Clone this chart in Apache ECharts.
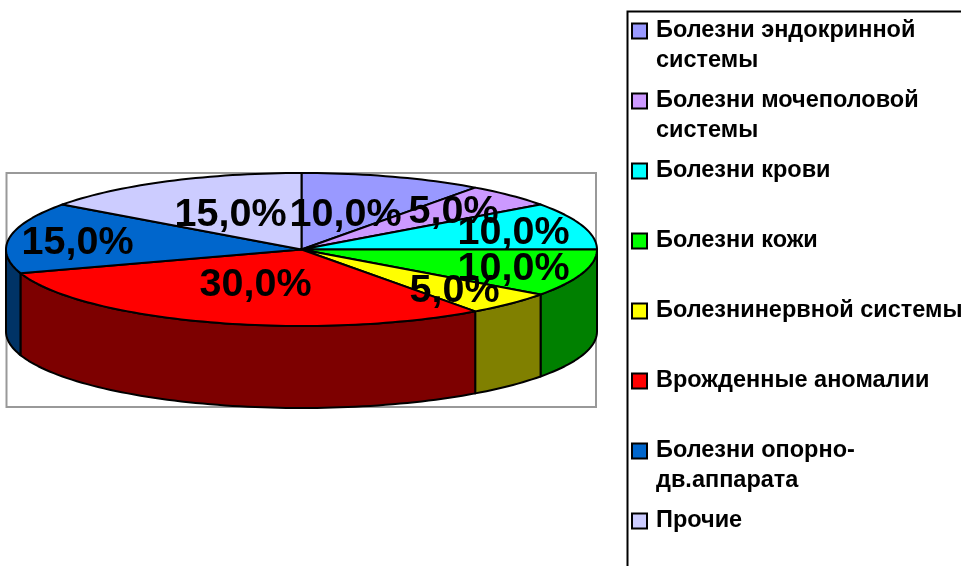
<!DOCTYPE html>
<html>
<head>
<meta charset="utf-8">
<style>html,body{margin:0;padding:0;background:#fff}#c{width:961px;height:566px}</style>
<script src="https://cdn.jsdelivr.net/npm/echarts@6/dist/echarts.min.js"></script>
</head>
<body>
<div id="c"></div>
<script>
const categories = [
  "Болезни эндокринной\nсистемы",
  "Болезни мочеполовой\nсистемы",
  "Болезни крови",
  "Болезни кожи",
  "Болезнинервной системы",
  "Врожденные аномалии",
  "Болезни опорно-\nдв.аппарата",
  "Прочие"
];
const values = [10, 5, 10, 10, 5, 30, 15, 15];
const colors = ["#9999FF", "#CC99FF", "#00FFFF", "#00FF00", "#FFFF00", "#FF0000", "#0066CC", "#CCCCFF"];
const wallColors = ["#4D4D80", "#664D80", "#008080", "#008000", "#808000", "#7D0000", "#003366", "#666680"];

// label anchors, px offset from the pie centre
const labelOffsets = [[44,-34],[152,-37],[212,-16],[212,20],[153,42],[-46,36],[-224,-6],[-71,-34]];

const pie = {cx: 301.5, cy: 249.5, rx: 295.5, ry: 76.5, depth: 82};
const total = values.reduce((a, b) => a + b, 0);
const starts = [];
values.reduce((acc, v, i) => { starts[i] = acc; return acc + v; }, 0);

function pt(deg, dy) {
  const r = deg * Math.PI / 180;
  return [pie.cx + pie.rx * Math.sin(r), pie.cy - pie.ry * Math.cos(r) + (dy || 0)];
}
function arc(a0, a1, dy) {
  const n = Math.max(2, Math.ceil(Math.abs(a1 - a0) / 1.5));
  const out = [];
  for (let i = 0; i <= n; i++) out.push(pt(a0 + (a1 - a0) * i / n, dy));
  return out;
}

function makeRender(i) {
  return function (params, api) {
    const v = api.value(0);
    const a0 = starts[i] / total * 360;
    const a1 = a0 + v / total * 360;
    const children = [];
    const w0 = Math.max(a0, 90), w1 = Math.min(a1, 270);
    if (w1 > w0) {
      children.push({
        type: 'polygon', z2: 1,
        shape: {points: arc(w0, w1, 0).concat(arc(w1, w0, pie.depth))},
        style: {fill: wallColors[i], stroke: '#000', lineWidth: 2, lineJoin: 'round'}
      });
    }
    children.push({
      type: 'polygon', z2: 2,
      shape: {points: [[pie.cx, pie.cy]].concat(arc(a0, a1, 0))},
      style: {fill: colors[i], stroke: '#000', lineWidth: 2, lineJoin: 'round'}
    });
    children.push({
      type: 'text', z2: 3,
      style: {
        text: v.toFixed(1).replace('.', ',') + '%',
        x: pie.cx + labelOffsets[i][0], y: pie.cy + labelOffsets[i][1],
        fill: '#000', align: 'center', verticalAlign: 'middle',
        font: 'bold 39.5px "Liberation Sans", Arial, sans-serif'
      }
    });
    return {type: 'group', children};
  };
}

const chart = echarts.init(document.getElementById('c'), null, {renderer: 'canvas'});
chart.setOption({
  animation: false,
  backgroundColor: '#fff',
  graphic: [
    {type: 'rect', z: 0, silent: true, shape: {x: 6.5, y: 173, width: 589.5, height: 234},
     style: {fill: '#fff', stroke: '#999', lineWidth: 2}},
    {type: 'rect', z: 0, silent: true, shape: {x: 627.5, y: 11.5, width: 400, height: 600},
     style: {fill: '#fff', stroke: '#000', lineWidth: 2}}
  ],
  legend: {
    orient: 'vertical',
    left: 631, top: -14, height: 800,
    padding: 0,
    itemWidth: 23, itemHeight: 15, itemGap: -20,
    selectedMode: false,
    icon: 'path://M0 0H10V10H0Z',
    itemStyle: {borderColor: '#000', borderWidth: 2},
    data: categories,
    formatter: n => ' \n' + (n.indexOf('\n') >= 0 ? n : n + '\n '),
    textStyle: {
      color: '#000', fontFamily: '"Liberation Sans", Arial, sans-serif', fontWeight: 'bold',
      fontSize: 23.5, lineHeight: 30
    }
  },
  series: categories.map((name, i) => ({
    type: 'custom',
    name,
    coordinateSystem: 'none',
    silent: true,
    itemStyle: {color: colors[i]},
    renderItem: makeRender(i),
    data: [[values[i]]]
  }))
});
</script>
</body>
</html>
